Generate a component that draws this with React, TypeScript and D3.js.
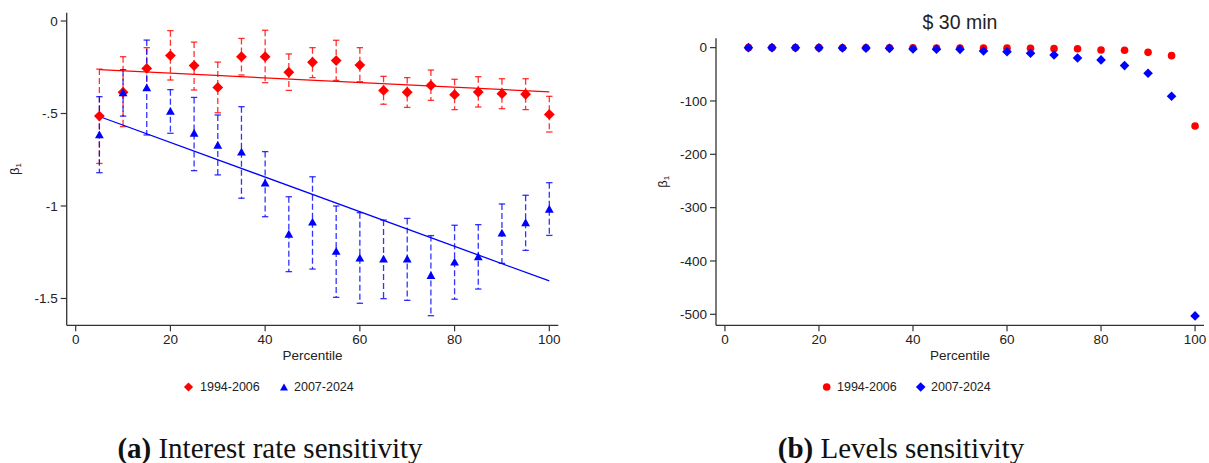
import React from "react";
import * as d3 from "d3";

// ---------- DATA ----------
const percentiles = [5, 10, 15, 20, 25, 30, 35, 40, 45, 50, 55, 60, 65, 70, 75, 80, 85, 90, 95, 100];

// Panel (a): interest rate sensitivity
const redEst = [-0.514, -0.385, -0.256, -0.187, -0.241, -0.359, -0.193, -0.193, -0.277, -0.223, -0.214, -0.238, -0.375, -0.385, -0.348, -0.398, -0.384, -0.393, -0.396, -0.505];
const redHi = [-0.26, -0.193, -0.144, -0.052, -0.114, -0.222, -0.094, -0.05, -0.178, -0.144, -0.104, -0.144, -0.299, -0.306, -0.265, -0.315, -0.301, -0.312, -0.312, -0.407];
const redLo = [-0.77, -0.571, -0.37, -0.319, -0.373, -0.496, -0.292, -0.333, -0.375, -0.306, -0.321, -0.328, -0.45, -0.467, -0.429, -0.479, -0.465, -0.474, -0.479, -0.6];

const blueEst = [-0.613, -0.385, -0.359, -0.486, -0.604, -0.669, -0.706, -0.874, -1.15, -1.085, -1.243, -1.279, -1.285, -1.285, -1.373, -1.301, -1.272, -1.144, -1.088, -1.015];
const blueHi = [-0.409, -0.263, -0.103, -0.371, -0.413, -0.508, -0.463, -0.706, -0.95, -0.842, -1.0, -1.036, -1.076, -1.067, -1.16, -1.104, -1.101, -0.989, -0.942, -0.874];
const blueLo = [-0.82, -0.514, -0.616, -0.607, -0.809, -0.832, -0.958, -1.058, -1.355, -1.341, -1.494, -1.526, -1.501, -1.51, -1.593, -1.504, -1.449, -1.31, -1.24, -1.159];

// Panel (b): levels sensitivity
const redLevels = [0, 0, 0, 0, -0.2, -0.3, -0.4, -0.5, -0.6, -0.7, -0.8, -1, -1.2, -1.9, -2.2, -4.4, -5, -8.8, -15, -147];
const blueLevels = [0, 0, -0.2, -0.4, -0.6, -0.9, -1.3, -2.5, -3.1, -3.2, -6.2, -7.5, -10.6, -13.7, -19.3, -23, -33.7, -48, -91.2, -503];

const xTicks = [0, 20, 40, 60, 80, 100];
const yTicksA = [0, -0.5, -1, -1.5];
const yTickLabelsA = ["0", "-.5", "-1", "-1.5"];
const yTicksB = [0, -100, -200, -300, -400, -500];
const seriesLabels = ["1994-2006", "2007-2024"];
const panelBTitle = "$ 30 min";
const captionA = ["(a)", "Interest rate sensitivity"];
const captionB = ["(b)", "Levels sensitivity"];

// ---------- STYLE ----------
const RED = "#ff0000";
const BLUE = "#0000ff";
const AXIS = "#333333";
const SANS = "'Liberation Sans', Arial, Helvetica, sans-serif";
const SERIF = "'Liberation Serif', 'Times New Roman', serif";

const diamond = (cx: number, cy: number, r: number) =>
  `M${cx},${cy - r}L${cx + r},${cy}L${cx},${cy + r}L${cx - r},${cy}Z`;
const triangle = (cx: number, cy: number, w: number, h: number) =>
  `M${cx},${cy - h / 2}L${cx + w / 2},${cy + h / 2}L${cx - w / 2},${cy + h / 2}Z`;

function linFit(xs: number[], ys: number[]) {
  const mx = d3.mean(xs)!;
  const my = d3.mean(ys)!;
  let num = 0, den = 0;
  xs.forEach((x, i) => { num += (x - mx) * (ys[i] - my); den += (x - mx) ** 2; });
  const b = num / den;
  return (x: number) => my + b * (x - mx);
}

function Axes({ x, y, yTicks, yLabels, yTitleX }: any) {
  const [x0, x1] = x.range();
  const [yb, yt] = y.range();
  return (
    <g fontFamily={SANS} fill="#222">
      <line x1={x0} x2={x0} y1={yt} y2={yb} stroke={AXIS} strokeWidth={1.3} />
      <line x1={x0} x2={x1} y1={yb} y2={yb} stroke={AXIS} strokeWidth={1.3} />
      {yTicks.map((t: number, i: number) => (
        <g key={i}>
          <line x1={x0 - 6} x2={x0} y1={y(t)} y2={y(t)} stroke={AXIS} strokeWidth={1.2} />
          <text x={x0 - 9} y={y(t)} dy="0.35em" textAnchor="end" fontSize={13.5}>{yLabels[i]}</text>
        </g>
      ))}
      {xTicks.map((t) => (
        <g key={t}>
          <line x1={x(t)} x2={x(t)} y1={yb} y2={yb + 6} stroke={AXIS} strokeWidth={1.2} />
          <text x={x(t)} y={yb + 19} textAnchor="middle" fontSize={13.5}>{t}</text>
        </g>
      ))}
      <text x={(x0 + x1) / 2} y={yb + 35} textAnchor="middle" fontSize={13.5}>Percentile</text>
      <text transform={`translate(${yTitleX},${(yt + yb) / 2}) rotate(-90)`} textAnchor="middle" fontSize={13}>
        β<tspan fontSize={8} dy="2">1</tspan>
      </text>
    </g>
  );
}

export default function App() {
  const W = 1209, H = 463;

  // Panel (a)
  const xA = d3.scaleLinear().domain([-1.9, 101.9]).range([66.7, 558.3]);
  const yA = d3.scaleLinear().domain([-1.645, 0.045]).range([325.3, 12.7]);
  const fitR = linFit(percentiles, redEst);
  const fitB = linFit(percentiles, blueEst);
  const fitPath = (f: (x: number) => number) =>
    d3.line<number>().x((p) => xA(p)).y((p) => yA(f(p)))([percentiles[0], percentiles[percentiles.length - 1]])!;

  // Panel (b)
  const xB = d3.scaleLinear().domain([-1.9, 101.9]).range([716, 1204]);
  const yB = d3.scaleLinear().domain([-520.6, 17.5]).range([325.3, 38.3]);

  const errBar = (p: number, hi: number, lo: number, color: string, key: string) => (
    <g key={key} stroke={color} strokeWidth={1.3} strokeOpacity={0.8}>
      <line x1={xA(p)} x2={xA(p)} y1={yA(hi)} y2={yA(lo)} strokeDasharray="6,3" />
      <line x1={xA(p) - 3.2} x2={xA(p) + 3.2} y1={yA(hi)} y2={yA(hi)} />
      <line x1={xA(p) - 3.2} x2={xA(p) + 3.2} y1={yA(lo)} y2={yA(lo)} />
    </g>
  );

  const legY = 387;

  return (
    <svg width={W} height={H} style={{ display: "block", position: "absolute", left: 0, top: 0 }}>
      <rect width={W} height={H} fill="#fff" />
      {/* ---------- Panel (a) ---------- */}
      <Axes x={xA} y={yA} yTicks={yTicksA} yLabels={yTickLabelsA} yTitleX={19} />
      {percentiles.map((p, i) => errBar(p, redHi[i], redLo[i], RED, "r" + i))}
      {percentiles.map((p, i) => errBar(p, blueHi[i], blueLo[i], BLUE, "b" + i))}
      <path d={fitPath(fitR)} stroke={RED} strokeWidth={1.3} fill="none" />
      <path d={fitPath(fitB)} stroke={BLUE} strokeWidth={1.3} fill="none" />
      {percentiles.map((p, i) => (
        <path key={"rd" + i} d={diamond(xA(p), yA(redEst[i]), 5.4)} fill={RED} />
      ))}
      {percentiles.map((p, i) => (
        <path key={"bt" + i} d={triangle(xA(p), yA(blueEst[i]), 8.8, 7.8)} fill={BLUE} />
      ))}
      {/* legend (a) */}
      <g fontFamily={SANS} fontSize={12.5} fill="#222">
        <path d={diamond(188.5, legY, 4.6)} fill={RED} />
        <text x={200} y={legY} dy="0.35em">{seriesLabels[0]}</text>
        <path d={triangle(284, legY, 8, 7)} fill={BLUE} />
        <text x={294} y={legY} dy="0.35em">{seriesLabels[1]}</text>
      </g>

      {/* ---------- Panel (b) ---------- */}
      <Axes x={xB} y={yB} yTicks={yTicksB} yLabels={yTicksB.map(String)} yTitleX={667} />
      <text x={960} y={29} textAnchor="middle" fontFamily={SANS} fontSize={19.5} fill="#222">{panelBTitle}</text>
      {percentiles.map((p, i) => (
        <circle key={"rc" + i} cx={xB(p)} cy={yB(redLevels[i])} r={3.8} fill={RED} />
      ))}
      {percentiles.map((p, i) => (
        <path key={"bd" + i} d={diamond(xB(p), yB(blueLevels[i]), 4.8)} fill={BLUE} />
      ))}
      {/* legend (b) */}
      <g fontFamily={SANS} fontSize={12.5} fill="#222">
        <circle cx={826.7} cy={legY} r={3.8} fill={RED} />
        <text x={837} y={legY} dy="0.35em">{seriesLabels[0]}</text>
        <path d={diamond(920.7, legY, 4.8)} fill={BLUE} />
        <text x={931} y={legY} dy="0.35em">{seriesLabels[1]}</text>
      </g>

      {/* ---------- captions ---------- */}
      <text x={270} y={458} textAnchor="middle" fontFamily={SERIF} fontSize={29} fill="#111">
        <tspan fontWeight="bold">{captionA[0]}</tspan> {captionA[1]}
      </text>
      <text x={901} y={458} textAnchor="middle" fontFamily={SERIF} fontSize={29} fill="#111">
        <tspan fontWeight="bold">{captionB[0]}</tspan> {captionB[1]}
      </text>
    </svg>
  );
}
